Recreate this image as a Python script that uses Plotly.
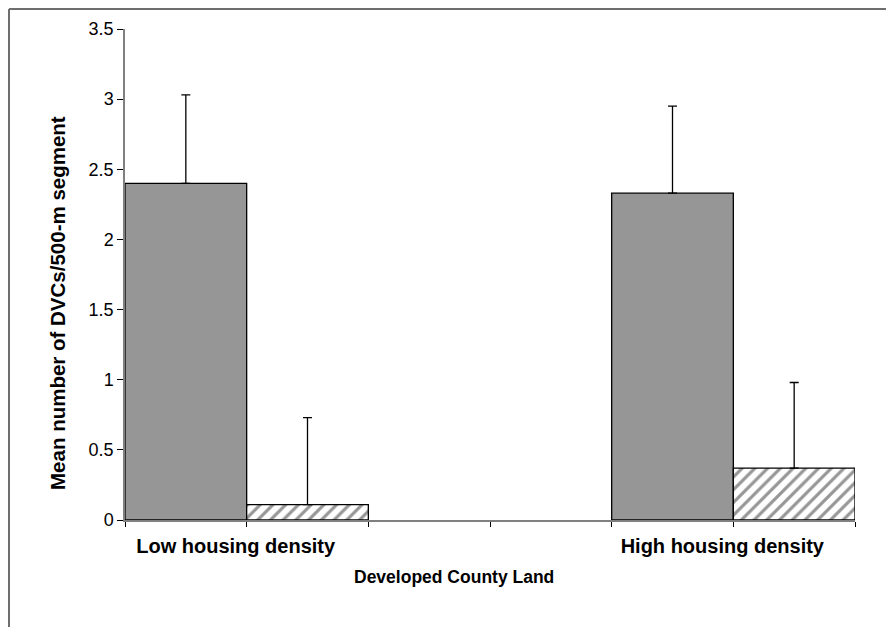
import plotly.graph_objects as go

categories = ["Low housing density", "High housing density"]
cat_pos = [0, 1]
series_a_values = [2.40, 2.33]     # solid grey bars
series_a_err = [0.63, 0.62]
series_b_values = [0.11, 0.37]     # hatched bars
series_b_err = [0.62, 0.61]
y_ticks = [0, 0.5, 1, 1.5, 2, 2.5, 3, 3.5]
y_title = "Mean number of DVCs/500-m segment"
x_title = "Developed County Land"

FONT = "Liberation Sans, Arial, sans-serif"

fig = go.Figure()
fig.add_trace(go.Bar(
    x=cat_pos, y=series_a_values, name="A",
    marker=dict(color="#969696", line=dict(color="black", width=1.3)),
    error_y=dict(type="data", symmetric=False, array=series_a_err,
                 arrayminus=[0, 0], color="black", thickness=1.3, width=4.5),
))
fig.add_trace(go.Bar(
    x=cat_pos, y=series_b_values, name="B",
    marker=dict(color="white", line=dict(color="black", width=1.3),
                pattern=dict(shape="/", fgcolor="#969696", bgcolor="white",
                             size=9, solidity=0.35, fillmode="replace")),
    error_y=dict(type="data", symmetric=False, array=series_b_err,
                 arrayminus=[0, 0], color="black", thickness=1.3, width=4.5),
))

tickvals = [-0.25, 0, 0.25, 0.5, 0.75, 1, 1.25]
ticktext = ["", categories[0], "", "", "", categories[1], ""]

# page body has an 8px margin; figure sized/offset to compensate
fig.update_layout(
    width=886, height=619,
    margin=dict(l=117, r=39, t=21, b=107),
    paper_bgcolor="white", plot_bgcolor="white",
    barmode="group", bargap=0.5, bargroupgap=0,
    showlegend=False,
    font=dict(family=FONT, color="black"),
    xaxis=dict(range=[-0.25, 1.25], tickmode="array", tickvals=tickvals,
               ticktext=ticktext, ticks="outside", ticklen=5, tickwidth=1.2,
               tickcolor="black", showline=True, linecolor="#808080",
               linewidth=1.5, showgrid=False, zeroline=False,
               tickfont=dict(family=FONT, size=20, color="black", weight="bold"),
               ticklabelshift=-11, ticklabelstandoff=2),
    yaxis=dict(range=[0, 3.5], tickmode="array", tickvals=y_ticks,
               ticks="outside", ticklen=6, tickwidth=1.2, tickcolor="black",
               showline=True, linecolor="#808080", linewidth=1.5,
               showgrid=False, zeroline=False,
               tickfont=dict(family=FONT, size=18, color="black")),
    annotations=[
        dict(text=y_title, xref="paper", yref="paper", x=-0.0918, y=0.442,
             textangle=-90, showarrow=False, xanchor="center", yanchor="middle",
             font=dict(family=FONT, size=20.5, color="black", weight="bold")),
        dict(text=x_title, xref="paper", yref="paper", x=0.4507, y=-0.116,
             showarrow=False, xanchor="center", yanchor="middle",
             font=dict(family=FONT, size=17.5, color="black", weight="bold")),
    ],
    shapes=[
        dict(type="line", xref="paper", yref="paper", x0=-0.1589, x1=1.06,
             y0=1.0407, y1=1.0407, line=dict(color="#6e6e6e", width=2)),
        dict(type="line", xref="paper", yref="paper", x0=-0.1589, x1=-0.1589,
             y0=1.0407, y1=-0.23, line=dict(color="#6e6e6e", width=2)),
    ],
)

fig.write_html("out.html")
